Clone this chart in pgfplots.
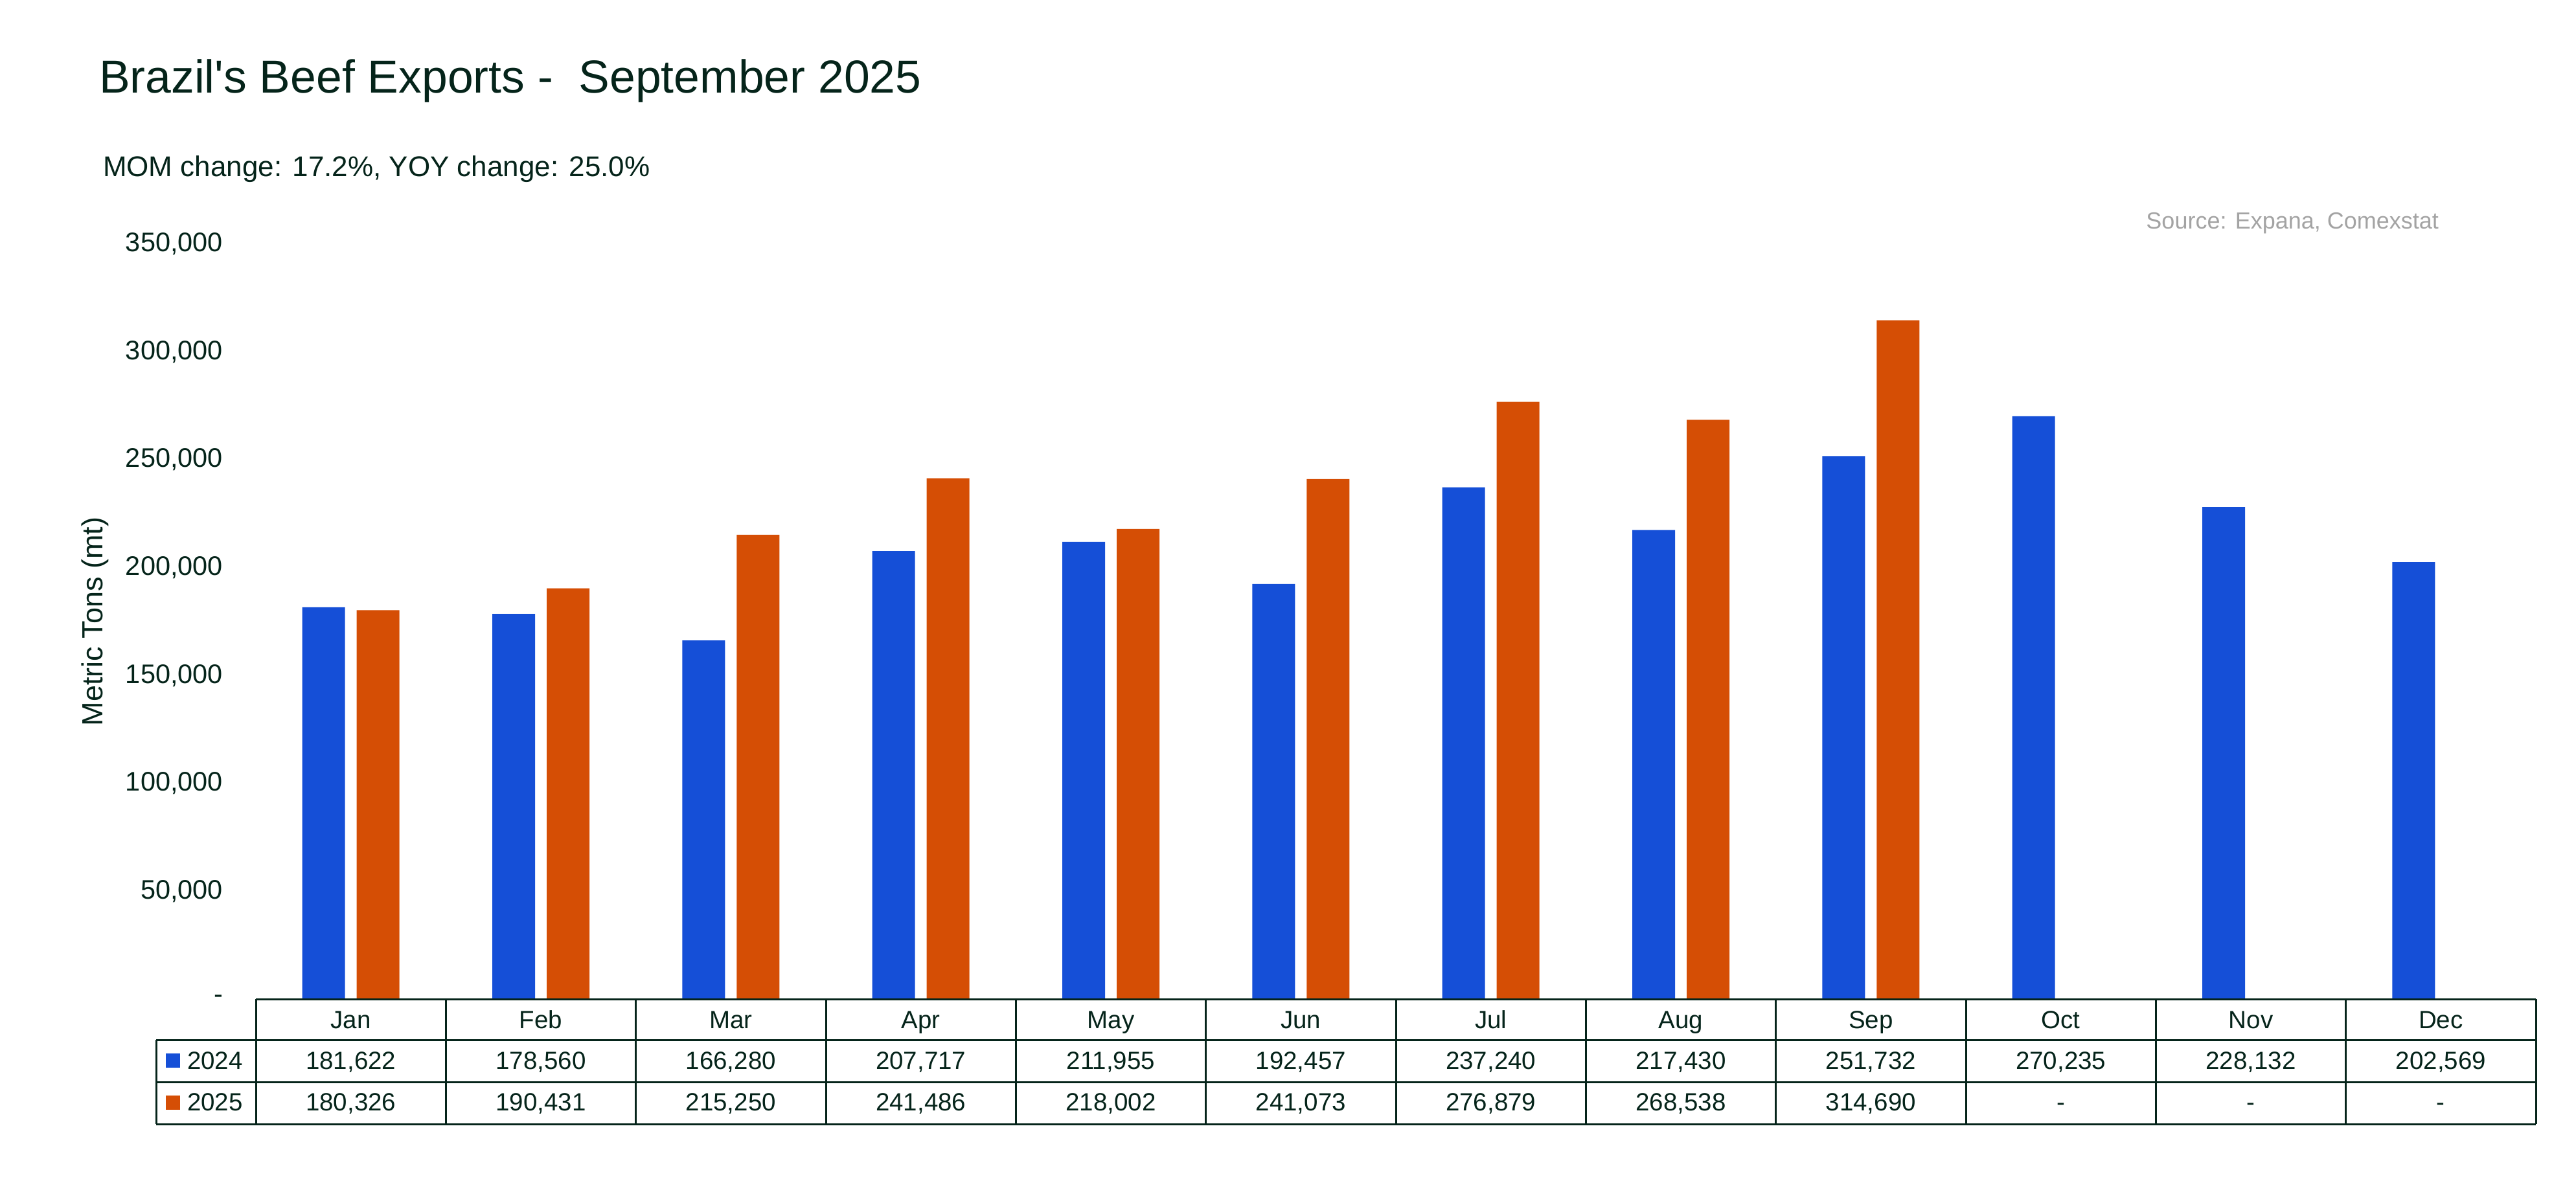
\documentclass[border=0pt]{standalone}
\usepackage{fontspec}
\setmainfont{Liberation Sans}
\usepackage{pgfplots}
\usepackage{pgfplotstable}
\pgfplotsset{compat=1.18}
\definecolor{textc}{HTML}{05241A}
\definecolor{bblue}{HTML}{154FD7}
\definecolor{borange}{HTML}{D54E05}
\definecolor{srcgray}{HTML}{A3A3A3}

\pgfplotstableread{
idx v
0 181622
1 178560
2 166280
3 207717
4 211955
5 192457
6 237240
7 217430
8 251732
9 270235
10 228132
11 202569
}\tabA
\pgfplotstableread{
idx v
0 180326
1 190431
2 215250
3 241486
4 218002
5 241073
6 276879
7 268538
8 314690
}\tabB

\newcommand{\tabfont}{\fontsize{7.7}{9}\selectfont}

\begin{document}
\begin{tikzpicture}
\begin{axis}[
  at={(79pt,59.4pt)}, anchor=south west,
  scale only axis, width=704pt, height=233.2pt,
  xmin=-0.5, xmax=11.5, ymin=0, ymax=350000,
  axis line style={draw=none},
  major tick length=0pt,
  xtick=\empty,
  scaled y ticks=false,
  ytick={0,50000,100000,150000,200000,250000,300000,350000},
  yticklabels={{-\hspace{3.4pt}},{50,000},{100,000},{150,000},{200,000},{250,000},{300,000},{350,000}},
  yticklabel style={font=\fontsize{8.3}{10}\selectfont, text=textc, inner sep=0pt, xshift=-10pt},
  ylabel={Metric Tons (mt)},
  ylabel style={at={(axis description cs:-0.0705,0.5)}, anchor=center, font=\fontsize{9}{11}\selectfont, text=textc},
  ybar, bar width=13.2pt,
  clip=false,
]
\addplot[ybar, bar shift=-8.4pt, fill=bblue, draw=none] table[x=idx, y=v] {\tabA};
\addplot[ybar, bar shift=8.4pt, fill=borange, draw=none] table[x=idx, y=v] {\tabB};
\end{axis}

% titles
\node[anchor=base west, font=\fontsize{14.3}{17}\selectfont, text=textc, inner sep=0pt] at (30.4pt,339.4pt) {Brazil\textquotesingle s Beef Exports -\ \ September 2025};
\node[anchor=base west, font=\fontsize{8.8}{11}\selectfont, text=textc, inner sep=0pt] at (31.6pt,313.6pt) {MOM change: 17.2\%, YOY change: 25.0\%};
\node[anchor=base east, font=\fontsize{7.2}{9}\selectfont, text=srcgray, inner sep=0pt] at (753.2pt,297.4pt) {Source: Expana, Comexstat};

% table grid
\begin{scope}[draw=textc, line width=0.6pt]
  \draw (79pt,59.4pt) -- (783pt,59.4pt);
  \draw (48.2pt,46.8pt) -- (783pt,46.8pt);
  \draw (48.2pt,33.8pt) -- (783pt,33.8pt);
  \draw (48.2pt,20.8pt) -- (783pt,20.8pt);
  \draw (48.2pt,46.8pt) -- (48.2pt,20.8pt);
  \foreach \k in {0,...,12} {
    \draw ({79pt+58.6667pt*\k},59.4pt) -- ({79pt+58.6667pt*\k},20.8pt);
  }
\end{scope}

% legend cells
\fill[bblue] (51.2pt,38.2pt) rectangle (55.6pt,42.6pt);
\fill[borange] (51.2pt,25.2pt) rectangle (55.6pt,29.6pt);
\node[anchor=base west, font=\tabfont, text=textc, inner sep=0pt] at (57.6pt,37.8pt) {2024};
\node[anchor=base west, font=\tabfont, text=textc, inner sep=0pt] at (57.6pt,25.0pt) {2025};

% header
\foreach \m [count=\c from 0] in {Jan,Feb,Mar,Apr,May,Jun,Jul,Aug,Sep,Oct,Nov,Dec} {
  \node[anchor=base, font=\tabfont, text=textc, inner sep=0pt] at ({79pt+58.6667pt*(\c+0.5)},50.4pt) {\m};
}
% 2024 row
\foreach \i in {0,...,11} {
  \pgfplotstablegetelem{\i}{v}\of\tabA
  \node[anchor=base, font=\tabfont, text=textc, inner sep=0pt] at ({79pt+58.6667pt*(\i+0.5)},37.8pt) {\pgfmathprintnumber[fixed,precision=0,1000 sep={,},assume math mode=true]{\pgfplotsretval}};
}
% 2025 row
\foreach \i in {0,...,8} {
  \pgfplotstablegetelem{\i}{v}\of\tabB
  \node[anchor=base, font=\tabfont, text=textc, inner sep=0pt] at ({79pt+58.6667pt*(\i+0.5)},25.0pt) {\pgfmathprintnumber[fixed,precision=0,1000 sep={,},assume math mode=true]{\pgfplotsretval}};
}
\foreach \i in {9,10,11} {
  \node[anchor=base, font=\tabfont, text=textc, inner sep=0pt] at ({79pt+58.6667pt*(\i+0.5)},25.0pt) {-};
}

\pgfresetboundingbox
\path (0,0) rectangle (795.4pt,368pt);
\end{tikzpicture}
\end{document}
